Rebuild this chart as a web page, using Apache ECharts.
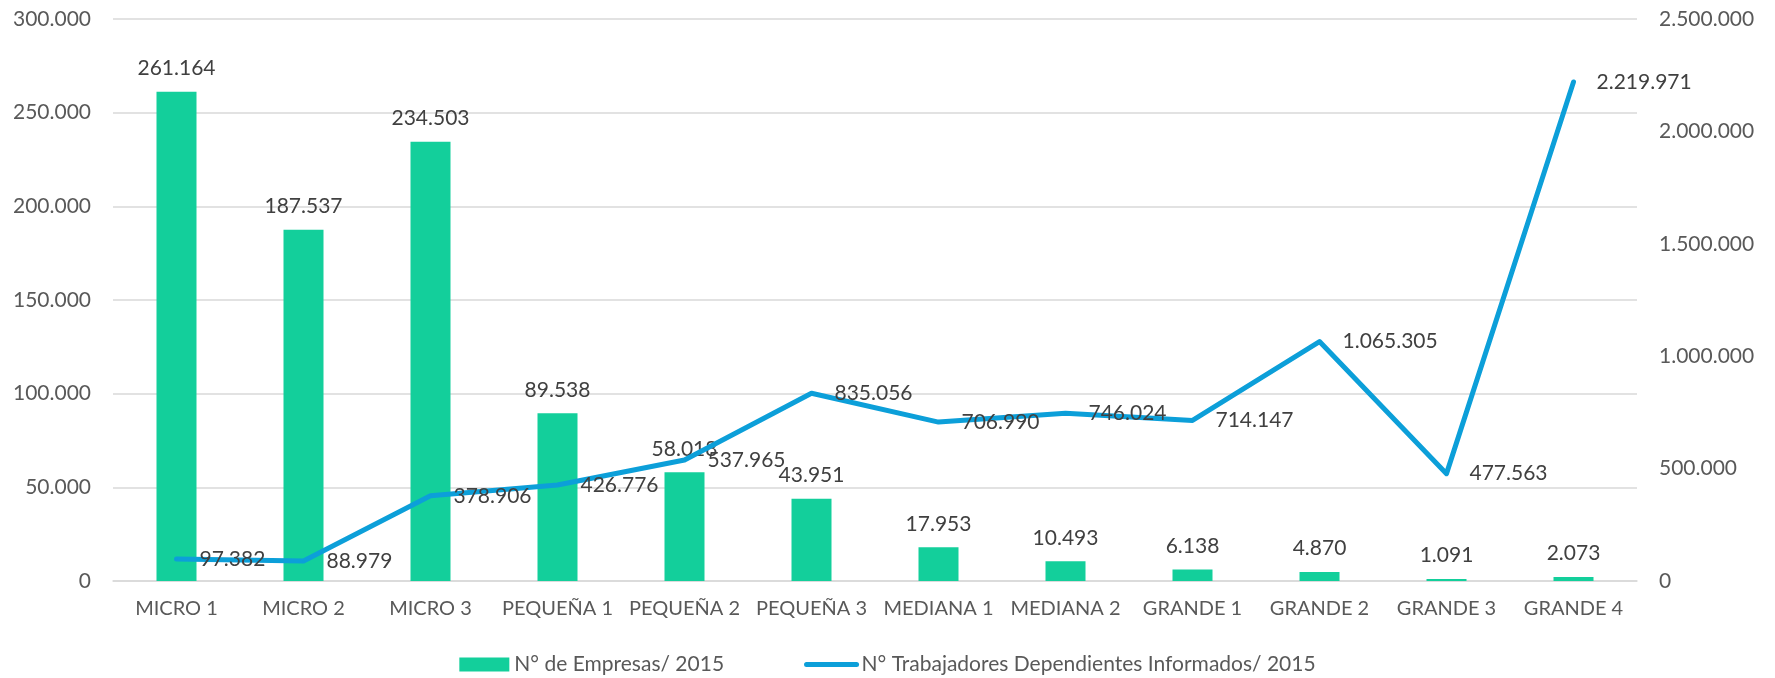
<!DOCTYPE html>
<html>
<head>
<meta charset="utf-8">
<script src="https://cdn.jsdelivr.net/npm/echarts@6/dist/echarts.min.js"></script>
<style>
	html, body { margin: 0; padding: 0; background: #fff; }
	#chart { width: 1775px; height: 678px; }
</style>
</head>
<body>
<div id="chart"></div>
<script>
var categories = ['MICRO 1', 'MICRO 2', 'MICRO 3', 'PEQUEÑA 1', 'PEQUEÑA 2', 'PEQUEÑA 3',
	'MEDIANA 1', 'MEDIANA 2', 'GRANDE 1', 'GRANDE 2', 'GRANDE 3', 'GRANDE 4'];
var empresas = [261164, 187537, 234503, 89538, 58018, 43951, 17953, 10493, 6138, 4870, 1091, 2073];
var trabajadores = [97382, 88979, 378906, 426776, 537965, 835056, 706990, 746024, 714147, 1065305, 477563, 2219971];

// miles con punto, como en el original
function fmt(v) {
	return String(Math.round(v)).replace(/\B(?=(\d{3})+(?!\d))/g, '.');
}

var font = 'Lato, "Open Sans", sans-serif';
var lineColor = '#0c9fd9';
var chart = echarts.init(document.getElementById('chart'));

chart.setOption({
	animation: false,
	textStyle: { fontFamily: font },
	grid: { left: 113, right: 138, top: 19, bottom: 97 },
	legend: {
		bottom: -2,
		left: 'center',
		itemWidth: 50,
		itemHeight: 14,
		itemGap: 80,
		textStyle: { fontSize: 21, color: '#595959', fontFamily: font },
		data: [
			{ name: 'N° de Empresas/ 2015', icon: 'rect' },
			{
				name: 'N° Trabajadores Dependientes Informados/ 2015',
				lineStyle: { color: lineColor, width: 5, cap: 'round' },
				itemStyle: { opacity: 0 }
			}
		]
	},
	xAxis: {
		type: 'category',
		data: categories,
		axisTick: { show: false },
		axisLine: { lineStyle: { color: '#d9d9d9', width: 1.5 } },
		axisLabel: { color: '#595959', fontSize: 20, margin: 18, interval: 0 }
	},
	yAxis: [
		{
			type: 'value',
			min: 0, max: 300000, interval: 50000,
			axisLabel: { color: '#595959', fontSize: 21, margin: 22, formatter: fmt },
			splitLine: { lineStyle: { color: '#d9d9d9', width: 1.5 } }
		},
		{
			type: 'value',
			min: 0, max: 2500000, interval: 500000,
			axisLabel: { color: '#595959', fontSize: 21, margin: 22, formatter: fmt },
			splitLine: { show: false }
		}
	],
	series: [
		{
			name: 'N° de Empresas/ 2015',
			type: 'bar',
			data: empresas,
			barWidth: 40,
			itemStyle: { color: '#13cf9b' },
			label: {
				show: true, position: 'top', distance: 13,
				color: '#404040', fontSize: 21,
				formatter: function(p) { return fmt(p.value); }
			}
		},
		{
			name: 'N° Trabajadores Dependientes Informados/ 2015',
			type: 'line',
			yAxisIndex: 1,
			data: trabajadores,
			symbol: 'circle',
			symbolSize: 2,
			showSymbol: true,
			lineStyle: { color: lineColor, width: 5, cap: 'round', join: 'round' },
			itemStyle: { color: lineColor, borderWidth: 0 },
			label: {
				show: true, position: 'right', distance: 22,
				color: '#404040', fontSize: 21,
				formatter: function(p) { return fmt(p.value); }
			}
		}
	]
});
</script>
</body>
</html>
